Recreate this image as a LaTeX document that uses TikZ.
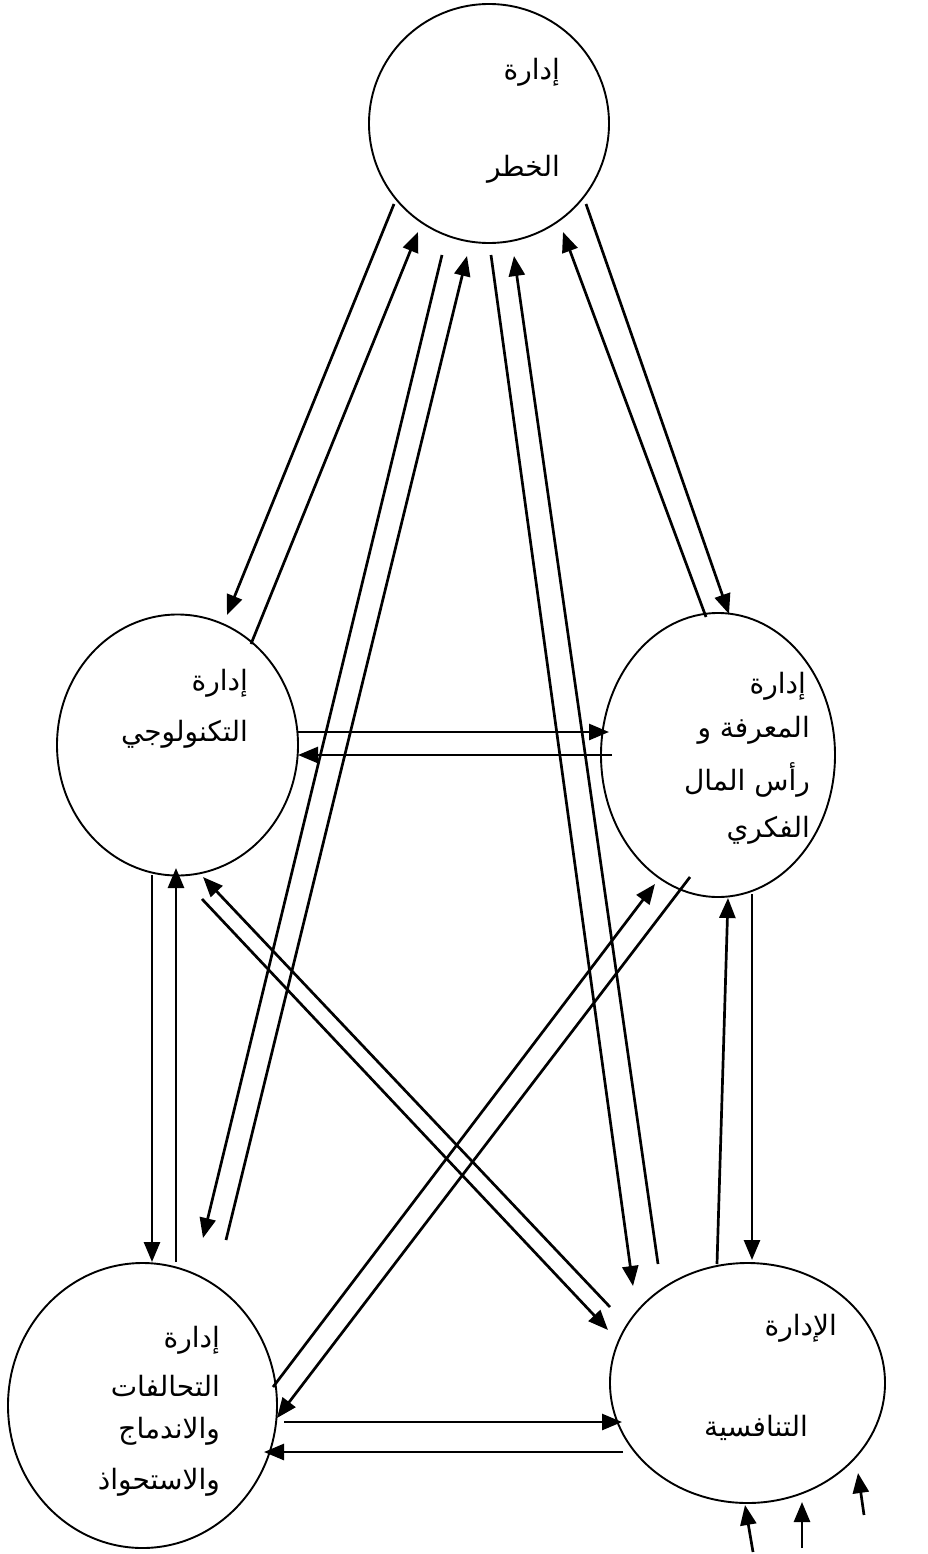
\documentclass[tikz,border=0pt]{standalone}
\usepackage{fontspec}
\usetikzlibrary{arrows.meta,shapes.geometric}
\TeXXeTstate=1
\newfontfamily\arabicfont[Script=Arabic]{DejaVu Sans}
\begin{document}
\begin{tikzpicture}[x=1pt,y=-1pt,
  circ/.style={draw, ellipse, line width=1.9pt, inner sep=0pt},
  lbl/.style={font=\arabicfont\fontsize{28}{32}\selectfont, anchor=east, inner sep=0pt},
  arr/.style={line width=2.7pt, -{Triangle[length=20pt,width=16pt]}},
  ]
\useasboundingbox[fill=white] (0,0) rectangle (927,1554);

% circles
\node[circ, minimum width=240pt, minimum height=239pt] (risk) at (489,123.5) {};
\node[circ, minimum width=241pt, minimum height=261pt] (tech) at (177.5,745) {};
\node[circ, minimum width=234pt, minimum height=284pt] (know) at (718,755) {};
\node[circ, minimum width=269pt, minimum height=285pt] (alli) at (142.5,1405.5) {};
\node[circ, minimum width=275pt, minimum height=240pt] (comp) at (747.5,1383) {};

% labels
\node[lbl] (risk1) at (560,72) {\beginR إدارة\endR};
\node[lbl] (risk2) at (560,169) {\beginR الخطر\endR};
\node[lbl] (tech1) at (248,683) {\beginR إدارة\endR};
\node[lbl] (tech2) at (248,734) {\beginR التكنولوجي\endR};
\node[lbl] (know1) at (806,686) {\beginR إدارة\endR};
\node[lbl] (know2) at (810,730) {\beginR المعرفة و\endR};
\node[lbl] (know3) at (810,780) {\beginR رأس المال\endR};
\node[lbl] (know4) at (810,830) {\beginR الفكري\endR};
\node[lbl] (alli1) at (220,1340) {\beginR إدارة\endR};
\node[lbl] (alli2) at (220,1386) {\beginR التحالفات\endR};
\node[lbl] (alli3) at (220,1431) {\beginR والاندماج\endR};
\node[lbl] (alli4) at (220,1482) {\beginR والاستحواذ\endR};
\node[lbl] (comp1) at (837,1328) {\beginR الإدارة\endR};
\node[lbl] (comp2) at (808,1428) {\beginR التنافسية\endR};

% connector end points
\coordinate (a1s) at (394,204);  \coordinate (a1e) at (227,615);
\coordinate (a2s) at (251,644);  \coordinate (a2e) at (418,232);
\coordinate (a3s) at (442,255);  \coordinate (a3e) at (203,1238);
\coordinate (a4s) at (226,1240); \coordinate (a4e) at (467,256);
\coordinate (a5s) at (491,255);  \coordinate (a5e) at (633,1286);
\coordinate (a6s) at (658,1264); \coordinate (a6e) at (514,256);
\coordinate (a7s) at (706,617);  \coordinate (a7e) at (563,232);
\coordinate (a8s) at (586,204);  \coordinate (a8e) at (729,614);
\coordinate (a9s) at (298,732);  \coordinate (a9e) at (609,732);
\coordinate (a10s) at (612,755); \coordinate (a10e) at (298,755);
\coordinate (a11s) at (152,875); \coordinate (a11e) at (152,1262);
\coordinate (a12s) at (176,1262); \coordinate (a12e) at (176,868);
\coordinate (a13s) at (610,1307); \coordinate (a13e) at (203,877);
\coordinate (a14s) at (202,899); \coordinate (a14e) at (608,1330);
\coordinate (a15s) at (273,1387); \coordinate (a15e) at (655,884);
\coordinate (a16s) at (690,877); \coordinate (a16e) at (277,1418);
\coordinate (a17s) at (717,1264); \coordinate (a17e) at (728,898);
\coordinate (a18s) at (752,894); \coordinate (a18e) at (752,1260);
\coordinate (a19s) at (284,1422); \coordinate (a19e) at (622,1422);
\coordinate (a20s) at (623,1452); \coordinate (a20e) at (264,1452);
\coordinate (a21s) at (753,1552); \coordinate (a21e) at (745,1505);
\coordinate (a22s) at (802,1548); \coordinate (a22e) at (802,1502);
\coordinate (a23s) at (864,1515); \coordinate (a23e) at (858,1473);

\foreach \i in {1,...,23} {\draw[arr] (a\i s) -- (a\i e);}
\end{tikzpicture}
\end{document}
